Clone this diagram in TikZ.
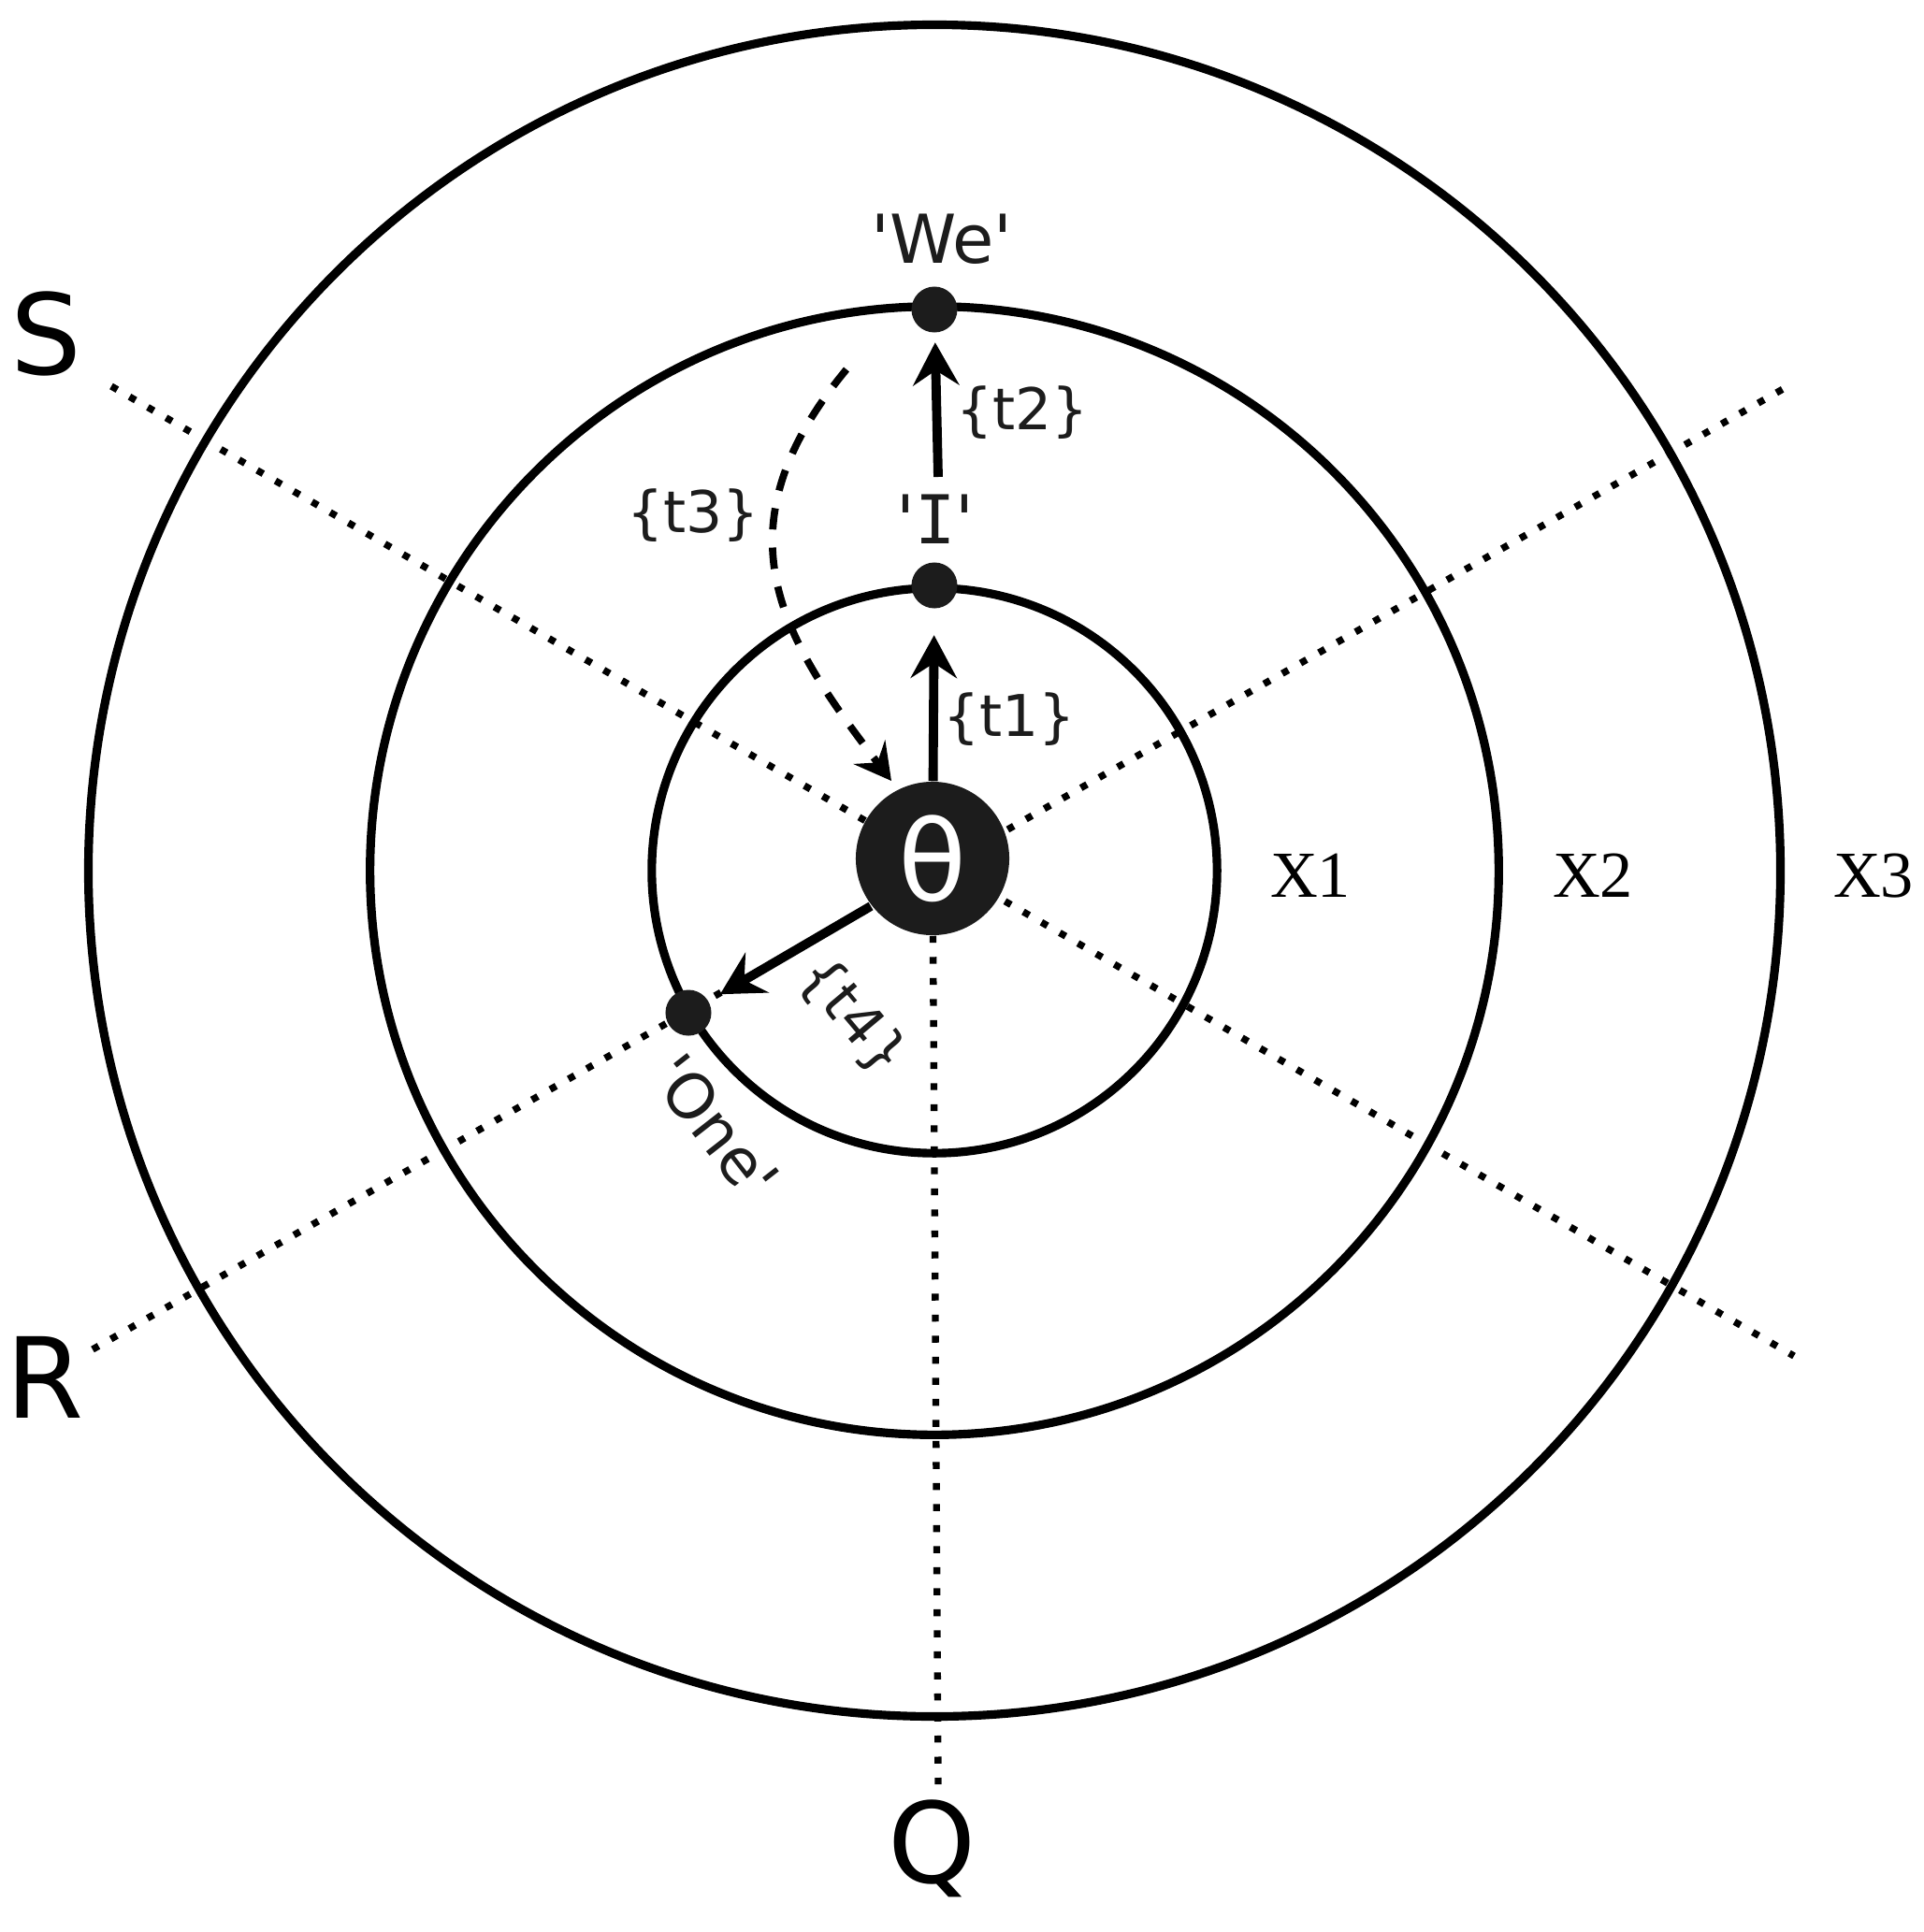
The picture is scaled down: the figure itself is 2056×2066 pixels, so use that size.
\documentclass[tikz,border=0pt]{standalone}
\usepackage{fontspec}
\newfontfamily\dvs{DejaVu Sans}[Ligatures=TeXOff]
\newfontfamily\dvm{DejaVu Sans Mono}[Ligatures=TeXOff]
\newfontfamily\lser{Liberation Serif}
\usetikzlibrary{arrows.meta}
\definecolor{ink}{HTML}{1C1C1C}
\begin{document}
\begin{tikzpicture}[x=0.01cm,y=-0.01cm,
  ring/.style={line width=2.6pt},
  dotline/.style={line width=2.1pt, dash pattern=on 2.1pt off 4.3pt},
  dotnode/.style={circle, fill=ink, minimum size=0.49cm, inner sep=0pt},
  arr/.style={line width=2.8pt, -{Stealth[length=13pt,width=14pt,inset=4.5pt]}},
  darr/.style={line width=2.2pt, dash pattern=on 6.5pt off 5.5pt, -{Stealth[length=11pt,width=12pt,inset=4pt]}},
  big/.style={font=\dvs\fontsize{34pt}{40pt}\selectfont, inner sep=0pt, anchor=base},
  xlab/.style={font=\lser\fontsize{20pt}{24pt}\selectfont, inner sep=0pt, anchor=base},
  lab/.style={font=\dvs\fontsize{20.5pt}{24pt}\selectfont, inner sep=0pt, text=ink},
  tlab/.style={font=\dvs\fontsize{17.5pt}{21pt}\selectfont, inner sep=0pt, text=ink}
]
\useasboundingbox (0,0) rectangle (2056,2066);
\fill[white] (0,0) rectangle (2056,2066);

% rings
\coordinate (C) at (999,931);
\draw[ring] (C) circle[radius=3.02cm];
\draw[ring] (C) circle[radius=6.03cm];
\draw[ring] (C) circle[radius=9.04cm];

% dotted sector lines
\coordinate (L1a) at (119,413);
\coordinate (L1b) at (1918,1450);
\coordinate (L2a) at (99,1443);
\coordinate (L2b) at (1915,411);
\coordinate (Qend) at (1003,1908);
\draw[dotline] (L1a) -- (L1b);
\draw[dotline] (L2a) -- (L2b);

% nodes
\node[dotnode] (wedot) at (999,331) {};
\node[dotnode] (idot) at (999,626) {};
\node[dotnode] (onedot) at (736,1083) {};
\node[circle, fill=ink, minimum size=1.64cm, inner sep=0pt, text=white,
      font=\dvs\fontsize{34pt}{40pt}\selectfont] (theta) at (997,918) {θ};
\draw[dotline] (theta) -- (Qend);

% outer labels
\node[big] (S) at (49,400) {S};
\node[big] (R) at (48,1516) {R};
\node[big] (Q) at (997,2013) {Q};
\node[xlab] (X1) at (1401,959) {X1};
\node[xlab] (X2) at (1703,959) {X2};
\node[xlab] (X3) at (2003,959) {X3};

% point labels
\node[lab, anchor=base] (we) at (1007,281) {'We'};
\node[lab, anchor=base] (ilab) at (1000,581) {'{\dvm I}'};
\node[lab, font=\dvs\fontsize{19pt}{22pt}\selectfont, rotate=-52] (one) at (765,1205) {'One'};

% transition labels
\node[tlab, anchor=base] (t1) at (1079,787) {\{t1\}};
\node[tlab, anchor=base] (t2) at (1093,459) {\{t2\}};
\node[tlab, anchor=base] (t3) at (741,569) {\{t3\}};
\node[tlab, rotate=-50] (t4) at (911,1087) {\{t4\}};

% arrows
\coordinate (t2s) at (1003,510);
\draw[arr, shorten >=0.1cm] (t2s) -- (wedot);
\draw[arr, shorten >=0.28cm] (theta) -- (idot);
\coordinate (t4s) at (931,969);
\draw[arr, shorten >=0.14cm] (t4s) -- (onedot);
\coordinate (t3s) at (905,395);
\coordinate (t3e) at (953,835);
\draw[darr] (t3s) .. controls (760,570) and (840,687) .. (t3e);
\end{tikzpicture}
\end{document}
